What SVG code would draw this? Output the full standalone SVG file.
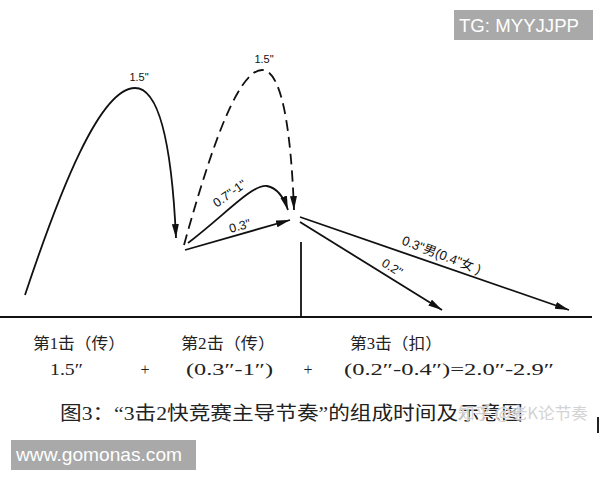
<svg xmlns="http://www.w3.org/2000/svg" width="600" height="480" viewBox="0 0 600 480">
<style>
.ln{fill:none;stroke:#111;stroke-width:1.8}
.dash{stroke-dasharray:11 6}
.lbl{font-family:"Liberation Sans",Arial,"Noto Sans CJK SC",sans-serif;font-size:12.5px;fill:#111}
.sm{font-size:11px}
.cn{font-family:"Liberation Serif","DejaVu Serif","Noto Sans CJK SC",serif;font-size:16px;fill:#222}
.wm{font-family:"Liberation Sans",Arial,sans-serif;fill:#fff}
</style>
<defs>
<marker id="ah" markerUnits="userSpaceOnUse" markerWidth="15" markerHeight="8" refX="14" refY="3.5" orient="auto">
<path d="M0,0 L14,3.5 L0,7 z" fill="#111"/>
</marker>
</defs>
<rect width="600" height="480" fill="#fff"/>

<g id="axes">
<line x1="0" y1="317" x2="592" y2="317" stroke="#111" stroke-width="2"/>
<line x1="301" y1="242" x2="301" y2="317" stroke="#111" stroke-width="1.8"/>
</g>

<g id="connectors">
<path id="hit1" class="ln" d="M25,295 C60,190 100,88 135,88 C160,88 172,150 176,238" marker-end="url(#ah)"/>
<path id="hit2-long" class="ln dash" d="M184,245 C205,170 235,70 262,70 C282,70 291,130 294,210" marker-end="url(#ah)"/>
<path id="hit2-mid" class="ln" d="M188,243 C225,215 252,184 267,186 C277,188 284,198 288,210" marker-end="url(#ah)"/>
<path id="hit2-fast" class="ln" d="M185,250 L290,220" marker-end="url(#ah)"/>
<path id="hit3-a" class="ln" d="M300,222 L442,310" marker-end="url(#ah)"/>
<path id="hit3-b" class="ln" d="M300,217 L569,310" marker-end="url(#ah)"/>
</g>

<g id="labels">
<text class="lbl sm" x="139" y="81" text-anchor="middle">1.5"</text>
<text class="lbl sm" x="264" y="63" text-anchor="middle">1.5"</text>
<text class="lbl" transform="translate(232,197) rotate(-35)" text-anchor="middle">0.7"-1"</text>
<text class="lbl" transform="translate(241,230) rotate(-16)" text-anchor="middle">0.3"</text>
<text class="lbl" transform="translate(390,271) rotate(32)" text-anchor="middle">0.2"</text>
<text class="lbl" transform="translate(440,259) rotate(21)" text-anchor="middle" style="font-size:13px">0.3"男(0.4"女 )</text>
</g>

<g id="legend">
<text class="cn" x="33" y="349" textLength="92" lengthAdjust="spacingAndGlyphs">第1击（传）</text>
<text class="cn" x="181" y="349" textLength="94" lengthAdjust="spacingAndGlyphs">第2击（传）</text>
<text class="cn" x="350" y="349" textLength="92" lengthAdjust="spacingAndGlyphs">第3击（扣）</text>
<text class="cn" x="50" y="375" textLength="33" lengthAdjust="spacingAndGlyphs">1.5″</text>
<text class="cn" x="145" y="375" text-anchor="middle">+</text>
<text class="cn" x="186" y="375" textLength="87" lengthAdjust="spacingAndGlyphs">(0.3″-1″)</text>
<text class="cn" x="308" y="375" text-anchor="middle">+</text>
<text class="cn" x="344" y="375" textLength="210" lengthAdjust="spacingAndGlyphs">(0.2″-0.4″)=2.0″-2.9″</text>
<text class="cn" x="60" y="420" style="font-size:19px" textLength="463" lengthAdjust="spacingAndGlyphs">图3：“3击2快竞赛主导节奏”的组成时间及示意图</text>
<text x="458" y="419" style="font-family:'Noto Sans CJK SC',sans-serif;font-size:16px;fill:#cfcfcf;stroke:#fff;stroke-width:1;paint-order:stroke;opacity:0.9" textLength="130" lengthAdjust="spacingAndGlyphs">知乎 @老K论节奏</text>
<rect x="597" y="417" width="2" height="16" fill="#222"/>
</g>

<g id="watermark-tg">
<rect x="454" y="10" width="139" height="30" fill="#a9a9a9"/>
<text class="wm" x="459" y="32" style="font-size:18px" textLength="120" lengthAdjust="spacingAndGlyphs">TG: MYYJJPP</text>
</g>
<g id="watermark-site">
<rect x="11" y="440" width="185" height="30" fill="#a9a9a9"/>
<text class="wm" x="16" y="461" style="font-size:19px" textLength="166" lengthAdjust="spacingAndGlyphs">www.gomonas.com</text>
</g>
</svg>
